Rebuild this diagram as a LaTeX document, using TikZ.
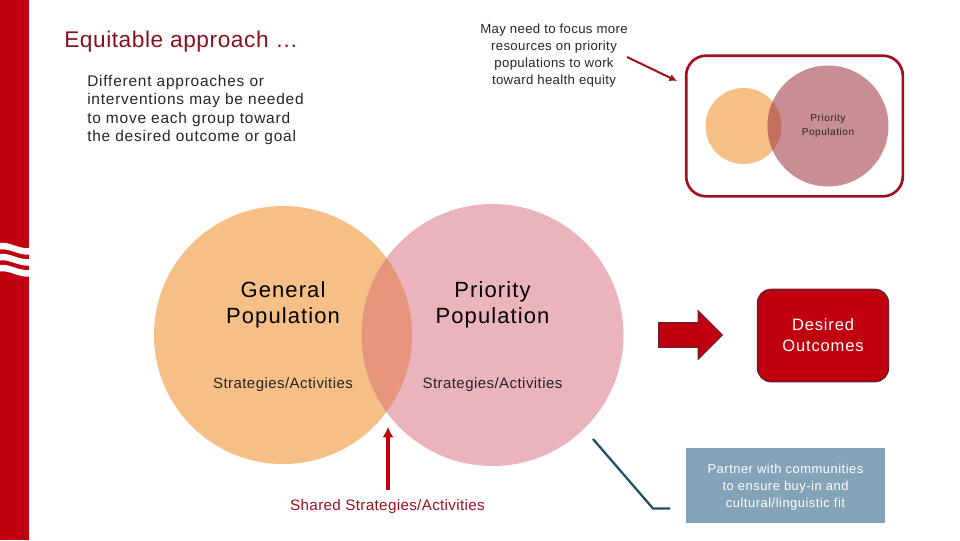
\documentclass[tikz,border=0pt]{standalone}
\usepackage{fontspec}
\setmainfont{Liberation Sans}
\usetikzlibrary{shapes,shapes.arrows,arrows.meta,positioning}
\definecolor{sidered}{RGB}{192,0,14}
\definecolor{darkred}{RGB}{160,16,32}
\definecolor{titlered}{RGB}{135,16,28}
\definecolor{boxborder}{RGB}{122,24,40}
\definecolor{softorange}{RGB}{246,191,133}
\definecolor{softpink}{RGB}{235,179,188}
\definecolor{softblend}{RGB}{229,150,125}
\definecolor{deeppink}{RGB}{201,141,150}
\definecolor{deepblend}{RGB}{196,112,95}
\definecolor{slateblue}{RGB}{133,163,184}
\definecolor{darkteal}{RGB}{31,78,104}
\definecolor{textgray}{RGB}{38,38,38}
\newcommand{\spaced}[3]{\fontsize{#1}{#2}\selectfont\addfontfeature{LetterSpace=#3}}
\tikzset{
	>={Latex[width=2mm,length=2mm]},
	% Specifications for style of nodes:
	venn/.style = {circle, inner sep=0pt, minimum size=#1*1.5pt},
	txt/.style = {inner sep=0pt, align=center, text=textgray},
	head/.style = {txt, text=black, font=\spaced{16.5}{19.5}{5}},
	body/.style = {txt, font=\spaced{11.25}{13.8}{3}},
	note/.style = {txt, font=\spaced{9.9}{12.8}{2.6}},
}
\begin{document}
\begin{tikzpicture}[x=0.75pt, y=-0.75pt]
	\useasboundingbox (0,0) rectangle (960,540);
	% side bar
	\fill[sidered] (0,0) rectangle (29,540);
	\foreach \wy in {243,254,265}
		\fill[white] (0,\wy) .. controls (10,\wy-1.5) and (18,\wy+6) .. (29,\wy+5) -- (29,\wy+11.5) .. controls (18,\wy+12.5) and (10,\wy+5) .. (0,\wy+6.5) -- cycle;
	% draw circles
	\node (general)[venn=129, fill=softorange] at (283,335) {};
	\node (priority)[venn=131, fill=softpink] at (492.5,335) {};
	\begin{scope}
		\clip (283,335) circle [radius=129];
		\fill[softblend] (492.5,335) circle [radius=131];
	\end{scope}
	\node (smallgen)[venn=38, fill=softorange] at (743.5,126) {};
	\node (smallpri)[venn=60.5, fill=deeppink] at (828,126) {};
	\begin{scope}
		\clip (743.5,126) circle [radius=38];
		\fill[deepblend] (828,126) circle [radius=60.5];
	\end{scope}
	% draw blocks
	\node (frame)[rectangle, rounded corners=15pt, draw=darkred, line width=2pt, minimum width=162.5pt, minimum height=105.5pt] at (794.5,126) {};
	\node (step)[single arrow, draw=boxborder, fill=sidered, line width=1pt, inner xsep=0pt, inner ysep=8.6pt, minimum height=47.5pt, single arrow head extend=8.8pt, single arrow tip angle=90] at (684.5,335) {};
	\node (outcomes)[rectangle, rounded corners=10pt, draw=boxborder, fill=sidered, line width=1.2pt, minimum width=98pt, minimum height=69pt, align=center, text=white, font=\spaced{12.4}{15.8}{5}] at (823,335.5) {Desired\\Outcomes};
	\node (partner)[rectangle, fill=slateblue, minimum width=149.5pt, minimum height=56pt] at (785.5,485.5) {};
	% draw text
	\node (title)[txt, anchor=west, text=titlered, font=\spaced{17}{20}{2.5}] at (64,42) {Equitable approach …};
	\node (intro)[txt, anchor=west, align=left, font=\spaced{11.6}{13.8}{5}] at (87,110) {Different approaches or\\interventions may be needed\\to move each group toward\\the desired outcome or goal};
	\node (need)[note] at (554,55.5) {May need to focus more\\resources on priority\\populations to work\\toward health equity};
	\node (genlabel)[head] at (283,305) {General\\Population};
	\node (prilabel)[head] at (492.5,305) {Priority\\Population};
	\node (genstrat)[body] at (283,384.5) {Strategies/Activities};
	\node (pristrat)[body] at (492.5,384.5) {Strategies/Activities};
	\node (smalllabel)[txt, font=\spaced{7.6}{10.5}{5}] at (828,126) {Priority\\Population};
	\node (shared)[txt, text=darkred, font=\spaced{11.4}{14}{2.2}] at (387.5,506.5) {Shared Strategies/Activities};
	\node (partnertext)[note, text=white, font=\spaced{9.7}{12.8}{3.9}] at (785.5,487) {Partner with communities\\to ensure buy-in and\\cultural/linguistic fit};
	% connection coordinates
	\coordinate (needend) at (627,57);
	\coordinate (needtip) at (677,81);
	\coordinate (sharedtail) at (388,490);
	\coordinate (sharedtip) at (388,427);
	\coordinate (calloutA) at (593,439);
	\coordinate (calloutB) at (653,508.5);
	\coordinate (calloutC) at (670,508.5);
	% draw arrows
	\draw[line width=1.5pt, darkred, -{Latex[width=2mm,length=2mm]}] (needend) -- (needtip);
	\draw[line width=2.4pt, sidered, -{Latex[width=2.9mm,length=2.7mm]}] (sharedtail) -- (sharedtip);
	\draw[line width=1.7pt, darkteal] (calloutA) -- (calloutB) -- (calloutC);
\end{tikzpicture}
\end{document}
